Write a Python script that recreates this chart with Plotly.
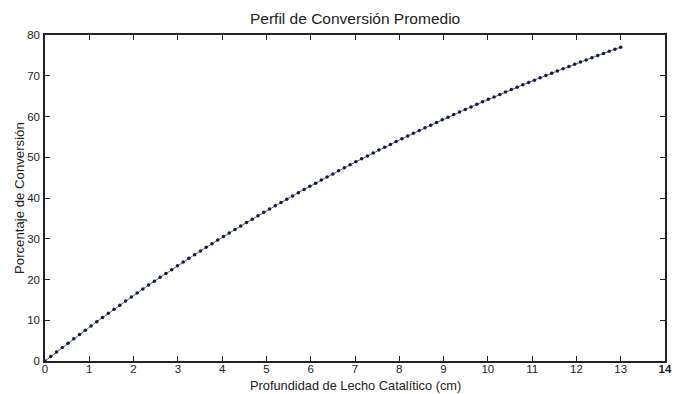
import plotly.graph_objects as go

# Profundidad de lecho (cm)
profundidad = [
    0.00, 0.13, 0.26, 0.39, 0.52, 0.65, 0.78, 0.91, 1.04, 1.17,
    1.30, 1.43, 1.56, 1.69, 1.82, 1.95, 2.08, 2.21, 2.34, 2.47,
    2.60, 2.73, 2.86, 2.99, 3.12, 3.25, 3.38, 3.51, 3.64, 3.77,
    3.90, 4.03, 4.16, 4.29, 4.42, 4.55, 4.68, 4.81, 4.94, 5.07,
    5.20, 5.33, 5.46, 5.59, 5.72, 5.85, 5.98, 6.11, 6.24, 6.37,
    6.50, 6.63, 6.76, 6.89, 7.02, 7.15, 7.28, 7.41, 7.54, 7.67,
    7.80, 7.93, 8.06, 8.19, 8.32, 8.45, 8.58, 8.71, 8.84, 8.97,
    9.10, 9.23, 9.36, 9.49, 9.62, 9.75, 9.88, 10.01, 10.14, 10.27,
    10.40, 10.53, 10.66, 10.79, 10.92, 11.05, 11.18, 11.31, 11.44, 11.57,
    11.70, 11.83, 11.96, 12.09, 12.22, 12.35, 12.48, 12.61, 12.74, 12.87,
    13.00,
]

# Porcentaje de conversión (%)
conversion = [
    0.00, 1.10, 2.20, 3.29, 4.37, 5.44, 6.50, 7.56, 8.60, 9.64,
    10.67, 11.69, 12.71, 13.71, 14.71, 15.70, 16.68, 17.66, 18.63, 19.59,
    20.54, 21.49, 22.42, 23.35, 24.28, 25.19, 26.10, 27.00, 27.90, 28.79,
    29.67, 30.54, 31.41, 32.27, 33.12, 33.97, 34.81, 35.65, 36.48, 37.30,
    38.11, 38.92, 39.72, 40.52, 41.31, 42.09, 42.87, 43.64, 44.41, 45.17,
    45.92, 46.67, 47.41, 48.15, 48.88, 49.61, 50.33, 51.04, 51.75, 52.45,
    53.15, 53.84, 54.53, 55.21, 55.88, 56.55, 57.22, 57.88, 58.53, 59.18,
    59.83, 60.47, 61.10, 61.73, 62.36, 62.98, 63.60, 64.21, 64.81, 65.41,
    66.01, 66.60, 67.19, 67.77, 68.35, 68.92, 69.49, 70.06, 70.62, 71.18,
    71.73, 72.27, 72.82, 73.36, 73.89, 74.42, 74.95, 75.47, 75.99, 76.50,
    77.02,
]

x_tickvals = [0, 1, 2, 3, 4, 5, 6, 7, 8, 9, 10, 11, 12, 13, 14]
x_ticktext = ["0", "1", "2", "3", "4", "5", "6", "7", "8", "9", "10", "11", "12", "13", "<b>14</b>"]
y_tickvals = [0, 10, 20, 30, 40, 50, 60, 70, 80]

W, H = 675, 394
ML, MR, MT, MB = 45, 10, 35, 33

fig = go.Figure()
fig.add_trace(go.Scatter(
    x=profundidad, y=conversion,
    mode="lines+markers",
    line=dict(color="#3f5fc8", width=1),
    marker=dict(color="#1a1a2a", size=3.5),
    showlegend=False,
))

font_family = "Liberation Sans, Arial, sans-serif"
pw = W - ML - MR
ph = H - MT - MB

fig.update_layout(
    width=W, height=H,
    margin=dict(l=ML, r=MR, t=MT, b=MB),
    paper_bgcolor="white", plot_bgcolor="white",
    font=dict(family=font_family, size=11, color="#222222"),
    annotations=[
        dict(text="Perfil de Conversión Promedio", xref="paper", yref="paper",
             x=0.5, y=1 + (MT - 18) / ph, xanchor="center", yanchor="middle",
             showarrow=False, font=dict(size=15.5, color="#222222")),
        dict(text="Profundidad de Lecho Catalítico (cm)", xref="paper", yref="paper",
             x=0.5, y=-(385 - (H - MB)) / ph, xanchor="center", yanchor="middle",
             showarrow=False, font=dict(size=12.8, color="#222222")),
        dict(text="Porcentaje de Conversión", xref="paper", yref="paper",
             x=-(ML - 19) / pw, y=0.5, xanchor="center", yanchor="middle", textangle=-90,
             showarrow=False, font=dict(size=13.2, color="#222222")),
    ],
)
fig.update_xaxes(
    range=[0, 14], tickvals=x_tickvals, ticktext=x_ticktext,
    ticks="inside", ticklen=5, tickwidth=1, tickcolor="#222222",
    showline=True, linecolor="#222222", linewidth=1.5, mirror="ticks",
    showgrid=False, zeroline=False, automargin=False,
    ticklabeloverflow="allow", ticklabelstandoff=-4,
    tickfont=dict(size=11.5),
)
fig.update_yaxes(
    range=[0, 80], tickvals=y_tickvals,
    ticks="inside", ticklen=5, tickwidth=1, tickcolor="#222222",
    showline=True, linecolor="#222222", linewidth=1.5, mirror="ticks",
    showgrid=False, zeroline=False, automargin=False,
    ticklabeloverflow="allow", ticklabelstandoff=1,
    tickfont=dict(size=11.5),
)

fig.write_html(
    "out.html",
    config={"displayModeBar": False},
    post_script="document.body.style.margin='0px';document.body.style.overflow='hidden';",
)
